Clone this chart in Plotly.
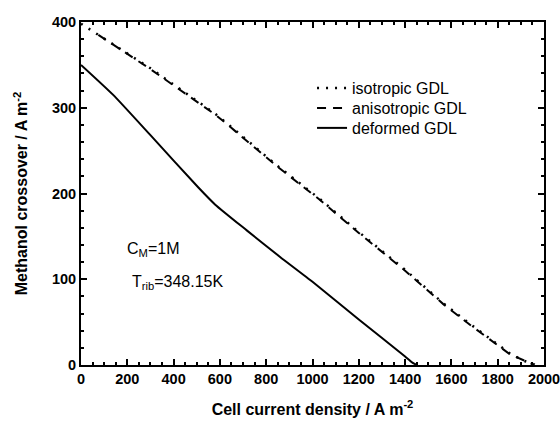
import plotly.graph_objects as go

# Data
iso_x = [0, 75, 240, 300, 580, 630, 845, 1030, 1200, 1400, 1565, 1680, 1850, 1910, 1950, 1960]
iso_y = [398, 385, 356, 346, 293, 282, 233, 194, 155, 111, 72, 48, 14, 5, 2, 0]
aniso_x = [75, 240, 300, 580, 630, 845, 1030, 1200, 1400, 1565, 1680, 1850, 1950]
aniso_y = [385, 355, 345, 292, 281, 232, 193, 154, 110, 71, 47, 13, 1]
def_x = [0, 139, 300, 507, 580, 716, 860, 1000, 1200, 1400, 1430, 1450]
def_y = [350, 315, 268, 207, 187, 157, 126, 97, 53, 10, 3, 0]

x_ticks = [0, 200, 400, 600, 800, 1000, 1200, 1400, 1600, 1800, 2000]
y_ticks = [0, 100, 200, 300, 400]

FONT = "Arial, Liberation Sans, sans-serif"

fig = go.Figure()
fig.add_trace(go.Scatter(x=iso_x, y=iso_y, mode="lines", name="isotropic GDL", legend="legend",
                         line=dict(color="black", width=2.5, dash="2px,7px")))
fig.add_trace(go.Scatter(x=aniso_x, y=aniso_y, mode="lines", name="anisotropic GDL", legend="legend2",
                         line=dict(color="black", width=2, dash="9px,7px")))
fig.add_trace(go.Scatter(x=def_x, y=def_y, mode="lines", name="deformed GDL", legend="legend3",
                         line=dict(color="black", width=2, shape="spline", smoothing=0.5)))

axis_common = dict(
    showline=True, linecolor="black", linewidth=2, mirror="ticks",
    ticks="inside", ticklen=6, tickwidth=2, tickcolor="black",
    showgrid=False, zeroline=False, automargin=False,
    ticklabeloverflow="allow",
    tickfont=dict(family=FONT, size=14.5, color="black", weight="bold"),
)

fig.update_xaxes(range=[0, 2000], tickvals=x_ticks,
                 minor=dict(dtick=50, ticks="inside", ticklen=3, tickwidth=1.5, tickcolor="black"),
                 title=dict(text="Cell current density / A m<sup>-2</sup>",
                            font=dict(family=FONT, size=16, color="black", weight="bold"), standoff=17),
                 **axis_common)
fig.update_yaxes(range=[0, 400], tickvals=y_ticks,
                 minor=dict(dtick=20, ticks="inside", ticklen=3, tickwidth=1.5, tickcolor="black"),
                 title=dict(text="Methanol crossover / A m<sup>-2</sup>",
                            font=dict(family=FONT, size=16, color="black", weight="bold"), standoff=20),
                 **axis_common)

fig.add_annotation(x=190, y=135, xref="x", yref="y", xanchor="left", showarrow=False,
                   text="C<sub>M</sub>=1M", font=dict(family=FONT, size=16, color="black"))
fig.add_annotation(x=212, y=96, xref="x", yref="y", xanchor="left", showarrow=False,
                   text="T<sub>rib</sub>=348.15K", font=dict(family=FONT, size=16, color="black"))

leg_common = dict(xanchor="left", yanchor="middle", x=0.499, bgcolor="rgba(0,0,0,0)",
                  font=dict(family=FONT, size=16, color="black"), itemwidth=30)

fig.update_layout(
    width=560, height=422,
    margin=dict(l=81, r=16, t=22, b=57, autoexpand=False),
    paper_bgcolor="white", plot_bgcolor="white",
    showlegend=True,
    legend=dict(y=0.8076, **leg_common),
    legend2=dict(y=0.749, **leg_common),
    legend3=dict(y=0.691, **leg_common),
)

fig.write_html("out.html")
